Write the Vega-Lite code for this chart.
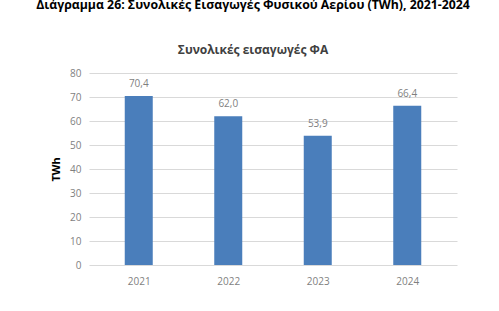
{
  "$schema": "https://vega.github.io/schema/vega-lite/v6.json",
  "autosize": "none",
  "width": 368,
  "height": 192,
  "padding": {"left": 89, "top": 73, "right": 42, "bottom": 46},
  "background": "white",
  "config": {
    "view": {"stroke": null},
    "font": "Open Sans",
    "locale": {"number": {"decimal": ",", "thousands": ".", "grouping": [3], "currency": ["", " €"]}}
  },
  "title": {
    "text": "Διάγραμμα 26: Συνολικές Εισαγωγές Φυσικού Αερίου (TWh), 2021-2024",
    "subtitle": "Συνολικές εισαγωγές ΦΑ",
    "anchor": "middle",
    "dx": -20,
    "font": "Open Sans",
    "fontSize": 12.3,
    "fontWeight": "bold",
    "color": "#000000",
    "subtitleFont": "Open Sans",
    "subtitleFontSize": 12,
    "subtitleFontWeight": "bold",
    "subtitleColor": "#404040",
    "subtitlePadding": 34,
    "offset": 12
  },
  "data": {
    "values": [
      {"year": 2021, "twh": 70.4},
      {"year": 2022, "twh": 62.0},
      {"year": 2023, "twh": 53.9},
      {"year": 2024, "twh": 66.4}
    ]
  },
  "encoding": {
    "x": {
      "field": "year",
      "type": "quantitative",
      "scale": {"domain": [2020.5, 2024.5], "nice": false, "zero": false},
      "axis": {
        "values": [2021, 2022, 2023, 2024],
        "format": "d",
        "title": null,
        "grid": false,
        "domain": false,
        "ticks": false,
        "labelPadding": 11,
        "labelFontSize": 10,
        "labelColor": "#7f7f7f",
        "labelFont": "Open Sans"
      }
    },
    "y": {
      "field": "twh",
      "type": "quantitative",
      "scale": {"domain": [0, 80], "nice": false},
      "axis": {
        "values": [0, 10, 20, 30, 40, 50, 60, 70, 80],
        "title": "TWh",
        "titleFont": "Open Sans",
        "titleFontSize": 11,
        "titleFontWeight": "bold",
        "titleColor": "#000000",
        "titlePadding": 8,
        "grid": true,
        "gridColor": "#d9d9d9",
        "domain": false,
        "ticks": false,
        "labelOverlap": false,
        "labelPadding": 8,
        "labelFontSize": 10,
        "labelColor": "#7f7f7f",
        "labelFont": "Open Sans"
      }
    }
  },
  "layer": [
    {
      "mark": {"type": "bar", "size": 28, "color": "#4a7ebb"}
    },
    {
      "mark": {"type": "text", "dy": -9, "fontSize": 10, "color": "#7f7f7f", "baseline": "alphabetic", "font": "Open Sans"},
      "encoding": {
        "text": {"field": "twh", "type": "quantitative", "format": ".1f"}
      }
    }
  ]
}
